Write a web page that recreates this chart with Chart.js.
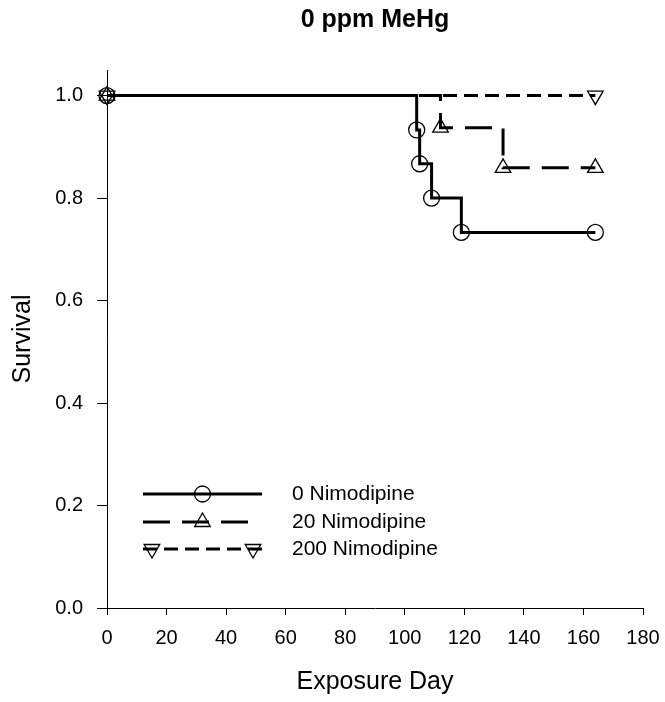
<!DOCTYPE html>
<html>
<head>
<meta charset="utf-8">
<script src="https://cdn.jsdelivr.net/npm/chart.js@4/dist/chart.umd.min.js"></script>
<style>
  body { margin: 0; background: #fff; }
  #wrap { width: 665px; height: 702px; }
</style>
</head>
<body>
<div id="wrap"><canvas id="survivalChart" width="665" height="702"></canvas></div>
<script>
// Datos (Kaplan-Meier)
const chartTitle = '0 ppm MeHg';
const seriesNames = ['0 Nimodipine', '20 Nimodipine', '200 Nimodipine'];
const days0 = [0, 104, 105, 109, 119, 164];
const surv0 = [1.0, 0.933, 0.867, 0.8, 0.733, 0.733];
const days20 = [0, 112, 133, 164];
const surv20 = [1.0, 0.9375, 0.859, 0.859];
const days200 = [0, 164];
const surv200 = [1.0, 1.0];
const xTicks = [0, 20, 40, 60, 80, 100, 120, 140, 160, 180];
const yTicks = [0.0, 0.2, 0.4, 0.6, 0.8, 1.0];

const FONT = "'Liberation Sans', Arial, Helvetica, sans-serif";

function toPoints(xs, ys) {
    return xs.map((x, i) => ({ x: x, y: ys[i] }));
}

// estilos por serie
const styles = [
    { dash: [], pointStyle: 'circle', radius: 8, rotation: 0 },
    { dash: [27, 12], pointStyle: 'triangle', radius: 9, rotation: 0 },
    { dash: [14, 7], pointStyle: 'triangle', radius: 9, rotation: 180 }
];

function drawMarker(ctx, style, x, y) {
    ctx.save();
    ctx.setLineDash([]);
    ctx.lineWidth = 1.3;
    ctx.strokeStyle = '#000';
    ctx.beginPath();
    if (style.pointStyle === 'circle') {
        ctx.arc(x, y, style.radius, 0, Math.PI * 2);
    } else {
        let rad = style.rotation * Math.PI / 180;
        const r = style.radius;
        ctx.moveTo(x + Math.sin(rad) * r, y - Math.cos(rad) * r);
        rad += 2 * Math.PI / 3;
        ctx.lineTo(x + Math.sin(rad) * r, y - Math.cos(rad) * r);
        rad += 2 * Math.PI / 3;
        ctx.lineTo(x + Math.sin(rad) * r, y - Math.cos(rad) * r);
        ctx.closePath();
    }
    ctx.stroke();
    ctx.restore();
}

// Título centrado sobre el área del gráfico
const titlePlugin = {
    id: 'areaTitle',
    afterDraw(chart) {
        const ctx = chart.ctx;
        const area = chart.chartArea;
        ctx.save();
        ctx.fillStyle = '#000';
        ctx.font = 'bold 25px ' + FONT;
        ctx.textAlign = 'center';
        ctx.textBaseline = 'alphabetic';
        ctx.fillText(chartTitle, (area.left + area.right) / 2, 26.5);
        ctx.restore();
    }
};

// Leyenda al estilo SigmaPlot
const legendPlugin = {
    id: 'sigmaLegend',
    afterDatasetsDraw(chart) {
        const ctx = chart.ctx;
        const area = chart.chartArea;
        const x0 = area.left + 36;
        const x1 = area.left + 155;
        const tx = area.left + 185;
        const rows = [area.bottom - 114, area.bottom - 86, area.bottom - 59];
        rows.forEach((y, i) => {
            const st = styles[i];
            const xEnd = i === 1 ? x1 - 13 : x1;
            ctx.save();
            ctx.strokeStyle = '#000';
            ctx.lineWidth = 3;
            ctx.setLineDash(st.dash);
            ctx.beginPath();
            ctx.moveTo(x0, y);
            ctx.lineTo(xEnd, y);
            ctx.stroke();
            ctx.restore();
            if (i === 2) {
                drawMarker(ctx, st, x0 + 9, y);
                drawMarker(ctx, st, x1 - 9, y);
            } else {
                drawMarker(ctx, st, (x0 + x1) / 2, y);
            }
            ctx.save();
            ctx.fillStyle = '#000';
            ctx.font = '21px ' + FONT;
            ctx.textBaseline = 'middle';
            ctx.textAlign = 'left';
            ctx.fillText(seriesNames[i], tx, y);
            ctx.restore();
        });
    }
};

function makeDataset(i, xs, ys) {
    const st = styles[i];
    return {
        label: seriesNames[i],
        data: toPoints(xs, ys),
        stepped: 'before',
        borderColor: '#000',
        borderWidth: 3,
        borderDash: st.dash,
        backgroundColor: 'rgba(0,0,0,0)',
        fill: false,
        pointStyle: st.pointStyle,
        pointRadius: st.radius,
        pointRotation: st.rotation,
        pointBorderWidth: 1.3,
        pointBorderColor: '#000',
        pointBackgroundColor: 'rgba(0,0,0,0)',
        clip: false
    };
}

const ctxSurv = document.getElementById('survivalChart').getContext('2d');
const survivalChart = new Chart(ctxSurv, {
    type: 'line',
    data: {
        datasets: [
            makeDataset(0, days0, surv0),
            makeDataset(1, days20, surv20),
            makeDataset(2, days200, surv200)
        ]
    },
    options: {
        responsive: false,
        animation: false,
        layout: { padding: { left: 0, right: 22, top: 70, bottom: 0 } },
        scales: {
            x: {
                type: 'linear',
                min: xTicks[0],
                max: xTicks[xTicks.length - 1],
                afterBuildTicks: s => { s.ticks = xTicks.map(v => ({ value: v })); },
                afterFit: s => { s.height = 94; s.paddingLeft = 0; s.paddingRight = 0; },
                grid: { display: true, drawOnChartArea: false, drawTicks: true, tickLength: 7, color: '#000', lineWidth: 1 },
                border: { display: true, color: '#000', width: 1 },
                ticks: {
                    color: '#000',
                    font: { family: FONT, size: 20 },
                    padding: 11,
                    maxRotation: 0,
                    callback: v => String(v)
                },
                title: {
                    display: true,
                    text: 'Exposure Day',
                    color: '#000',
                    font: { family: FONT, size: 25 },
                    padding: { top: 5, bottom: 5 }
                }
            },
            y: {
                type: 'linear',
                min: 0,
                max: 1.05,
                afterBuildTicks: s => { s.ticks = yTicks.map(v => ({ value: v })); },
                afterFit: s => { s.width = 107; s.paddingTop = 0; s.paddingBottom = 0; },
                grid: { display: true, drawOnChartArea: false, drawTicks: true, tickLength: 10, color: '#000', lineWidth: 1 },
                border: { display: true, color: '#000', width: 1 },
                ticks: {
                    color: '#000',
                    font: { family: FONT, size: 20 },
                    padding: 14,
                    callback: v => Number(v).toFixed(1)
                },
                title: {
                    display: true,
                    text: 'Survival',
                    color: '#000',
                    font: { family: FONT, size: 25 },
                    padding: { top: 8, bottom: 8 }
                }
            }
        },
        plugins: {
            legend: { display: false },
            tooltip: { enabled: false },
            title: { display: false }
        }
    },
    plugins: [legendPlugin, titlePlugin]
});
</script>
</body>
</html>
